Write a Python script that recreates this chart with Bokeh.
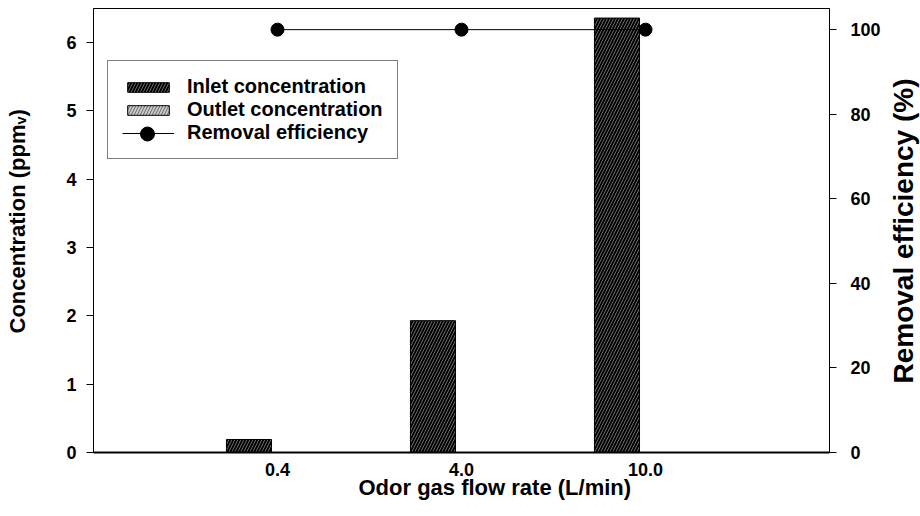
import math
from bokeh.plotting import figure
from bokeh.layouts import row
from bokeh.models import (LinearAxis, Range1d, FixedTicker, Legend, LegendItem,
                          ColumnDataSource, Title)
from bokeh.core.properties import value
from bokeh.transform import dodge
from bokeh.embed import file_html
from bokeh.resources import INLINE

# Odor gas flow rates (L/min) and measured values
flow_rates = ["0.4", "4.0", "10.0"]
inlet_conc = [0.19, 1.93, 6.36]      # ppmv
outlet_conc = [0.0, 0.0, 0.0]        # ppmv
removal_eff = [100, 100, 100]        # %

x = list(range(1, len(flow_rates) + 1))
src = ColumnDataSource(dict(x=x, inlet=inlet_conc, outlet=outlet_conc, eff=removal_eff))

FONT = "Liberation Sans"
H = 516
SIDE_W = 35
TOP, BOTTOM = 8, 64

p = figure(width=920 - 2 * SIDE_W, height=H, x_range=Range1d(0, 4), y_range=Range1d(0, 6.5),
           output_backend="svg", toolbar_location=None)
p.min_border_left = 58
p.min_border_right = 56
p.min_border_top = TOP
p.min_border_bottom = BOTTOM
p.background_fill_color = "white"
p.border_fill_color = "white"
p.outline_line_color = "black"
p.outline_line_width = 1
p.grid.visible = False

p.extra_y_ranges = {"eff": Range1d(0, 105)}

bar_w = 0.245
inlet = p.vbar(x=dodge("x", -0.155, range=p.x_range), top="inlet", width=bar_w, source=src,
               fill_color="black", line_color="black", line_width=1,
               hatch_pattern="/", hatch_color="#6a6a6a", hatch_scale=6, hatch_weight=1)
outlet = p.vbar(x=dodge("x", 0.09, range=p.x_range), top="outlet", width=bar_w, source=src,
                fill_color="#c8c8c8", line_color="black", line_width=1,
                hatch_pattern="/", hatch_color="#707070", hatch_scale=6, hatch_weight=1)

eff_line = p.line("x", "eff", source=src, y_range_name="eff", line_color="black", line_width=1)
eff_pts = p.scatter("x", "eff", source=src, y_range_name="eff", size=13,
                    fill_color="black", line_color="black")

# Bottom axis: category ticks only, no tick marks
xa = p.xaxis[0]
xa.ticker = FixedTicker(ticks=x)
xa.major_label_overrides = {i: lab for i, lab in zip(x, flow_rates)}
xa.major_tick_out = 0
xa.major_tick_in = 0
xa.minor_tick_line_color = None
xa.axis_line_width = 2
xa.major_label_standoff = 10

# Left axis (concentration)
ya = p.yaxis[0]
ya.ticker = FixedTicker(ticks=[0, 1, 2, 3, 4, 5, 6])
ya.major_tick_out = 7
ya.major_tick_in = 0
ya.minor_tick_line_color = None
ya.major_label_standoff = 10

# Right axis (removal efficiency)
ra = LinearAxis(y_range_name="eff", ticker=FixedTicker(ticks=[0, 20, 40, 60, 80, 100]))
ra.major_tick_out = 7
ra.major_tick_in = 0
ra.minor_tick_line_color = None
ra.major_label_standoff = 14
p.add_layout(ra, "right")

for ax in (xa, ya, ra):
    ax.major_label_text_font = FONT
    ax.major_label_text_font_style = "bold"
    ax.major_label_text_font_size = "18px"
    ax.major_label_text_color = "black"
    ax.axis_line_color = "black"
    ax.major_tick_line_color = "black"

# Category axis title
p.add_layout(Title(text="Odor gas flow rate (L/min)", offset=265, standoff=-12, align="left",
                   text_font=FONT, text_font_style="bold", text_color="black",
                   text_font_size="22px"), "below")

legend_text = dict(label_text_font=FONT, label_text_font_style="bold",
                   label_text_font_size="20px", label_text_color="black")

legend = Legend(items=[
    LegendItem(label="Inlet concentration", renderers=[inlet]),
    LegendItem(label="Outlet concentration", renderers=[outlet]),
    LegendItem(label="Removal efficiency", renderers=[eff_line]),
], location=(14, 293), glyph_width=52, glyph_height=12, label_height=23, spacing=0,
   padding=14, margin=0, label_standoff=13, border_line_color="black",
   border_line_width=1, background_fill_color="white", background_fill_alpha=1,
   **legend_text)
p.add_layout(legend, "center")

# Marker swatch for the efficiency entry, drawn at full size over the line swatch
marker_key = Legend(items=[LegendItem(label=" ", renderers=[eff_pts])],
                    location=(28, 301), glyph_width=52, glyph_height=35, label_height=35,
                    padding=0, margin=0, label_standoff=0, border_line_color=None,
                    background_fill_alpha=0, **legend_text)
p.add_layout(marker_key, "center")


def side_title(text, sx, sy, size):
    """Narrow strip holding a vertical axis title that starts at (sx, sy) and reads upwards.

    The strip's frame lines up with the main plot's frame, so its y range is set to
    the page pixel rows that frame spans.
    """
    s = figure(width=SIDE_W, height=H, x_range=Range1d(0, SIDE_W),
               y_range=Range1d(H - BOTTOM, TOP),
               output_backend="svg", toolbar_location=None,
               x_axis_location=None, y_axis_location=None, min_border=0)
    s.outline_line_color = None
    s.grid.visible = False
    s.background_fill_color = "white"
    s.border_fill_color = "white"
    s.text(x=[sx], y=[sy], text=[text], angle=math.pi / 2, text_align="left",
           text_baseline="middle", text_font=value(FONT), text_font_style="bold",
           text_font_size=size, text_color="black")
    return s


left_title = side_title("Concentration (ppm\u1d65)", 17, 333, "22px")
right_title = side_title("Removal efficiency (%)", 18, 383, "28px")

layout = row(left_title, p, right_title, spacing=0)

open("out.html", "w").write(file_html(layout, INLINE))
